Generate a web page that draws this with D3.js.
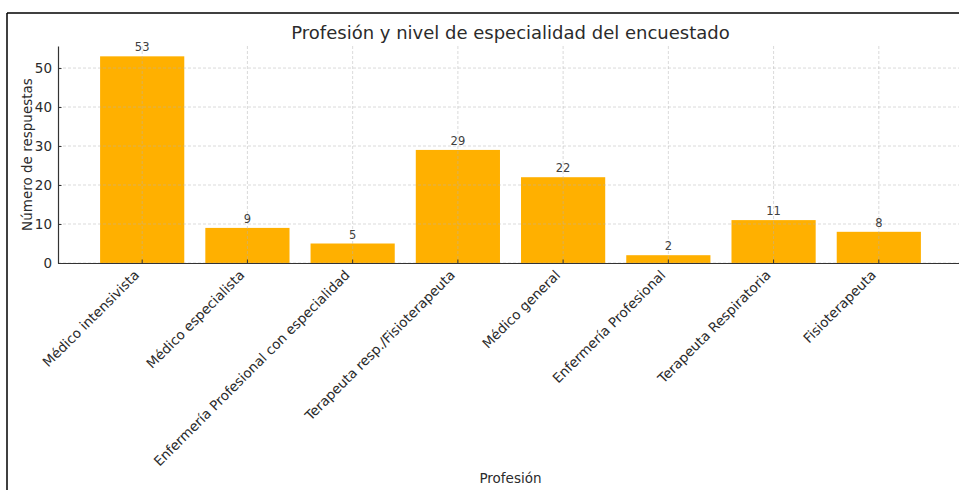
<!DOCTYPE html>
<html>
<head>
<meta charset="utf-8">
<script src="https://cdn.jsdelivr.net/npm/d3@7"></script>
<style>
  body { margin: 0; background: #fff; }
  text { font-family: "DejaVu Sans", sans-serif; fill: #2b2b2b; }
</style>
</head>
<body>
<div id="chart"></div>
<script>
// data
var professions = ["Médico intensivista", "Médico especialista", "Enfermería Profesional con especialidad",
    "Terapeuta resp./Fisioterapeuta", "Médico general", "Enfermería Profesional",
    "Terapeuta Respiratoria", "Fisioterapeuta"];
var responses = [53, 9, 5, 29, 22, 2, 11, 8];
var yTicks = [0, 10, 20, 30, 40, 50];

var svgWidth = 959, svgHeight = 490;
var margin = { top: 46, left: 58, bottom: 227 };
var plotRight = 963; // axes run past the right edge of the picture
var plotBottom = svgHeight - margin.bottom;

var svg = d3.select("#chart").append("svg")
    .attr("width", svgWidth)
    .attr("height", svgHeight);

// frame lines (top and left only, the rest is cropped)
svg.append("line").attr("x1", 7).attr("x2", svgWidth).attr("y1", 13).attr("y2", 13)
    .attr("stroke", "#000").attr("stroke-width", 1.5);
svg.append("line").attr("x1", 7).attr("x2", 7).attr("y1", 13).attr("y2", svgHeight)
    .attr("stroke", "#000").attr("stroke-width", 1.5);

var x = d3.scaleBand()
    .domain(professions)
    .range([margin.left, plotRight])
    .paddingInner(0.2)
    .paddingOuter(0.4);

var y = d3.scaleLinear()
    .domain([0, d3.max(responses) * 1.05])
    .range([plotBottom, margin.top]);

var data = professions.map((p, i) => ({ name: p, value: responses[i] }));

// bars
svg.append("g").selectAll("rect").data(data).enter().append("rect")
    .attr("x", d => x(d.name))
    .attr("y", d => y(d.value))
    .attr("width", x.bandwidth())
    .attr("height", d => plotBottom - y(d.value))
    .attr("fill", "#ffb000");

// grid, drawn over the bars like the original
var grid = svg.append("g").attr("stroke", "#b0b0b0").attr("stroke-opacity", 0.6)
    .attr("stroke-dasharray", "3,2").attr("stroke-width", 0.8);
grid.selectAll(".hg").data(yTicks).enter().append("line")
    .attr("x1", margin.left).attr("x2", plotRight)
    .attr("y1", d => y(d)).attr("y2", d => y(d));
grid.selectAll(".vg").data(professions).enter().append("line")
    .attr("x1", d => x(d) + x.bandwidth() / 2).attr("x2", d => x(d) + x.bandwidth() / 2)
    .attr("y1", margin.top).attr("y2", plotBottom);

// value labels
svg.append("g").selectAll("text").data(data).enter().append("text")
    .attr("x", d => x(d.name) + x.bandwidth() / 2)
    .attr("y", d => y(d.value) - 5)
    .attr("text-anchor", "middle")
    .attr("font-size", 11.5)
    .style("fill", "#404040")
    .text(d => d.value);

// y axis
var yAxis = svg.append("g")
    .attr("transform", `translate(${margin.left},0)`)
    .call(d3.axisLeft(y).tickValues(yTicks).tickSizeInner(-3.5).tickSizeOuter(0).tickPadding(6));
yAxis.select(".domain").attr("stroke", "#333").attr("stroke-width", 1.2);
yAxis.selectAll(".tick line").attr("stroke", "#333");
yAxis.selectAll(".tick text").attr("font-size", 13.5).style("fill", "#2b2b2b")
    .attr("font-family", "DejaVu Sans");

// x axis
var xAxis = svg.append("g")
    .attr("transform", `translate(0,${plotBottom})`)
    .call(d3.axisBottom(x).tickSizeInner(-3.5).tickSizeOuter(0).tickPadding(0));
xAxis.select(".domain").attr("stroke", "#333").attr("stroke-width", 1.2);
xAxis.selectAll(".tick line").attr("stroke", "#333");
xAxis.selectAll(".tick text")
    .attr("font-size", 13.5)
    .attr("font-family", "DejaVu Sans")
    .style("fill", "#2b2b2b")
    .attr("text-anchor", "end")
    .attr("dy", null)
    .attr("transform", "translate(-2,13) rotate(-45)");

// title and axis labels
svg.append("text")
    .attr("x", (margin.left + plotRight) / 2)
    .attr("y", 39)
    .attr("text-anchor", "middle")
    .attr("font-size", 18)
    .text("Profesión y nivel de especialidad del encuestado");

svg.append("text")
    .attr("transform", `translate(32, ${(margin.top + plotBottom) / 2}) rotate(-90)`)
    .attr("text-anchor", "middle")
    .attr("font-size", 13.5)
    .text("Número de respuestas");

svg.append("text")
    .attr("x", (margin.left + plotRight) / 2)
    .attr("y", 483)
    .attr("text-anchor", "middle")
    .attr("font-size", 13.5)
    .text("Profesión");
</script>
</body>
</html>
